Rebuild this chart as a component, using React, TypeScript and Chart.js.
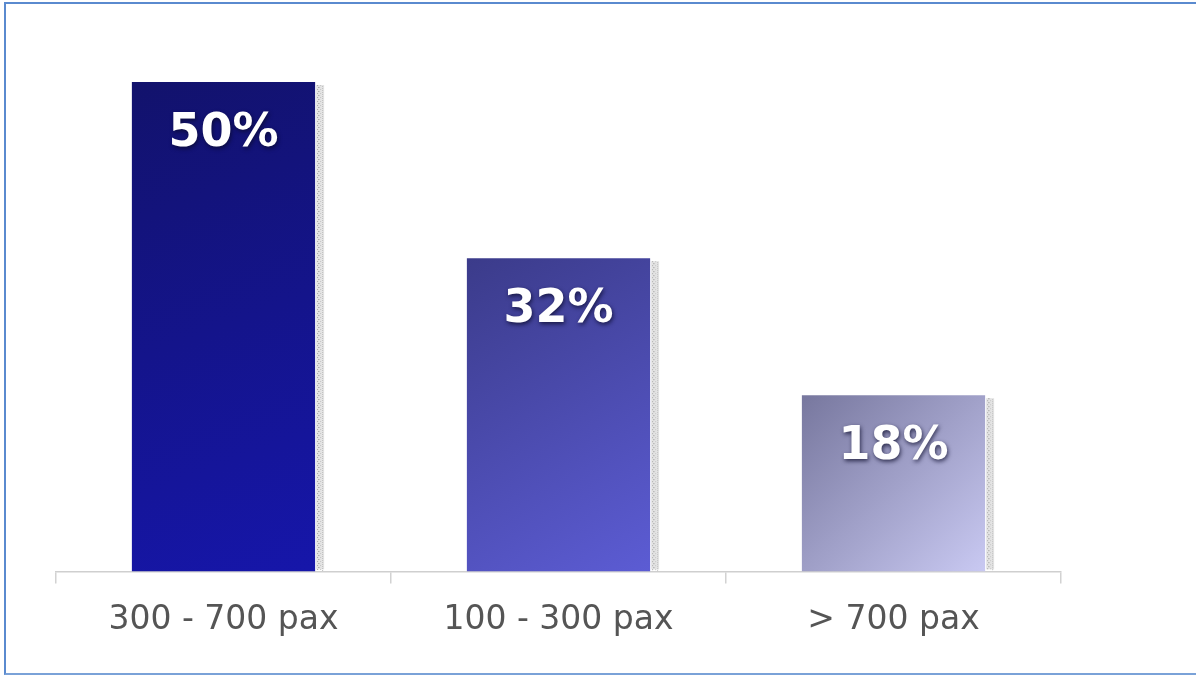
import React, { useEffect, useRef } from "react";
import { Chart, registerables } from "chart.js";

Chart.register(...registerables);

// Venue capacity share
const categories = ["300 - 700 pax", "100 - 300 pax", "> 700 pax"];
const shares = [50, 32, 18];
const valueLabels = ["50%", "32%", "18%"];

// Gradient stops per bar: top-left colour, bottom-right colour
const gradientStart = ["#12126c", "#3b3b8a", "#77779e"];
const gradientEnd = ["#1616aa", "#5c5cd4", "#c9c9f2"];

const barShadow = {
  id: "barShadow",
  beforeDatasetsDraw(chart: any) {
    const ctx = chart.ctx;
    const meta = chart.getDatasetMeta(0);
    meta.data.forEach((bar: any) => {
      const right = bar.x + bar.width / 2;
      const top = bar.y + 3;
      const bottom = bar.base - 2;
      ctx.save();
      ctx.fillStyle = "#e4e4e4";
      ctx.fillRect(right + 1, top, 8, bottom - top);
      for (let y = top; y < bottom; y += 2) {
        const shift = Math.floor(y / 2) % 2;
        ctx.fillStyle = "#a8a8a8";
        ctx.fillRect(right + 2 + shift, y, 1, 1);
        ctx.fillStyle = "#c4c4c4";
        ctx.fillRect(right + 5 - shift, y, 1, 1);
        ctx.fillStyle = "#bdbdbd";
        ctx.fillRect(right + 7, y + 1, 1, 1);
      }
      ctx.restore();
    });
  },
};

const valueText = {
  id: "valueText",
  afterDatasetsDraw(chart: any) {
    const ctx = chart.ctx;
    const meta = chart.getDatasetMeta(0);
    meta.data.forEach((bar: any, i: number) => {
      ctx.save();
      ctx.font = "bold 46px 'DejaVu Sans'";
      ctx.textAlign = "center";
      ctx.textBaseline = "alphabetic";
      ctx.shadowColor = "rgba(10,10,40,0.75)";
      ctx.shadowBlur = 4;
      ctx.shadowOffsetX = 1;
      ctx.shadowOffsetY = 2;
      ctx.fillStyle = "#ffffff";
      ctx.fillText(valueLabels[i], bar.x, bar.y + 64);
      ctx.restore();
    });
  },
};

function barGradient(context: any) {
  const chart = context.chart;
  const i = context.dataIndex;
  const xScale = chart.scales?.x;
  const yScale = chart.scales?.y;
  if (!chart.chartArea || !xScale || !yScale || i === undefined) {
    return gradientEnd[i ?? 0];
  }
  const cx = xScale.getPixelForValue(i);
  const half = 92;
  const top = yScale.getPixelForValue(shares[i]);
  const base = yScale.getPixelForValue(0);
  const g = chart.ctx.createLinearGradient(cx - half, top, cx + half, base);
  g.addColorStop(0, gradientStart[i]);
  g.addColorStop(1, gradientEnd[i]);
  return g;
}

export default function App() {
  const canvasRef = useRef<HTMLCanvasElement | null>(null);

  useEffect(() => {
    if (!canvasRef.current) return;
    const chart = new Chart(canvasRef.current, {
      type: "bar",
      data: {
        labels: categories,
        datasets: [
          {
            data: shares,
            backgroundColor: barGradient,
            borderWidth: 0,
            categoryPercentage: 1,
            barPercentage: 0.547,
          },
        ],
      },
      options: {
        animation: false,
        responsive: false,
        maintainAspectRatio: false,
        layout: { padding: { left: 56, right: 135, top: 82, bottom: 18 } },
        plugins: { legend: { display: false }, tooltip: { enabled: false } },
        scales: {
          x: {
            offset: true,
            grid: {
              display: true,
              offset: true,
              drawOnChartArea: false,
              drawTicks: true,
              tickLength: 12,
              color: "#d2d2d2",
              lineWidth: 1.5,
            },
            border: { display: true, color: "#cfcfcf", width: 1.5 },
            ticks: {
              color: "#555555",
              padding: 17,
              font: { family: "'DejaVu Sans'", size: 33 },
            },
          },
          y: {
            display: false,
            min: 0,
            max: 50,
          },
        },
      },
      plugins: [barShadow, valueText],
    });
    return () => chart.destroy();
  }, []);

  return (
    <div
      style={{
        position: "absolute",
        left: 0,
        top: 0,
        width: 1196,
        height: 675,
        background: "#ffffff",
        overflow: "hidden",
      }}
    >
      <div
        style={{
          position: "absolute",
          left: 4,
          top: 2,
          width: 1200,
          height: 669,
          borderTop: "2px solid #5a8acf",
          borderLeft: "2px solid #5a8acf",
          borderBottom: "2px solid #7aa2d8",
        }}
      />
      <canvas
        ref={canvasRef}
        width={1196}
        height={675}
        style={{ position: "absolute", left: 0, top: 0 }}
      />
    </div>
  );
}
